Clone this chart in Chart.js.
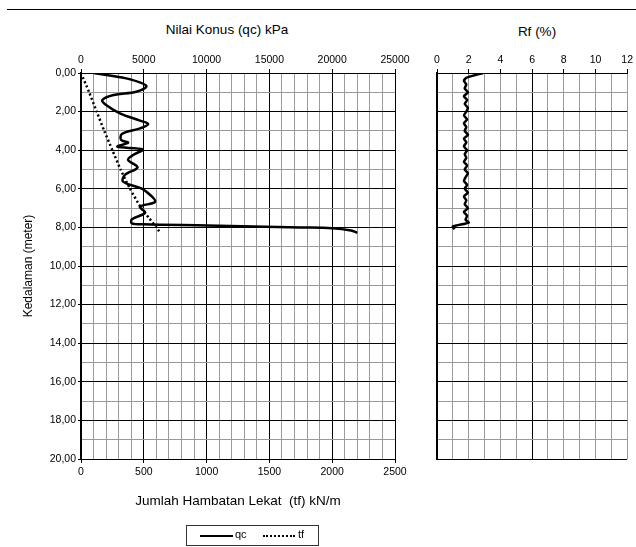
<!DOCTYPE html>
<html>
<head>
<meta charset="utf-8">
<script src="https://cdn.jsdelivr.net/npm/chart.js@4.4.1/dist/chart.umd.min.js"></script>
<style>
  body { margin: 0; background: #fff; font-family: "Liberation Sans", Arial, sans-serif; }
  #wrap { position: relative; width: 636px; height: 547px; overflow: hidden; }
  #qcCanvas { position: absolute; left: 0; top: 0; }
  #rfCanvas { position: absolute; left: 420px; top: 0; }
  .rule { position: absolute; left: 7px; top: 9px; width: 629px; border-top: 1px solid #000; }
  .title { position: absolute; font-size: 13.5px; color: #000; white-space: nowrap; transform: translate(-50%, -50%); }
  #legend { position: absolute; left: 186px; top: 525px; width: 131px; height: 19px; border: 1px solid #333; font-size: 11px; }
  #legend .ln { position: absolute; top: 9px; height: 0; }
  #legend .txt { position: absolute; top: 2px; }
</style>
</head>
<body>
<div id="wrap">
  <div class="rule"></div>
  <div class="title" style="left:227px; top:29px;">Nilai Konus (qc) kPa</div>
  <div class="title" style="left:537px; top:31px;">Rf (%)</div>
  <canvas id="qcCanvas" width="420" height="547"></canvas>
  <canvas id="rfCanvas" width="216" height="547"></canvas>
  <div id="legend">
    <span class="ln" style="left:13px; width:33px; border-top:2.5px solid #000;"></span>
    <span class="txt" style="left:48px;">qc</span>
    <span class="ln" style="left:76px; width:32px; border-top:2px dotted #000;"></span>
    <span class="txt" style="left:111px;">tf</span>
  </div>
</div>
<script>
// depth in metres, qc in kPa (top axis)
const qcDepth = [0, 0.28, 0.67, 0.97, 1.14, 1.4, 1.66, 2.09, 2.47, 2.64, 2.87, 3.16, 3.47, 3.61, 3.82, 3.96, 4.25, 4.5, 4.89, 5.28, 5.63, 5.98, 6.23, 6.67, 6.93, 7.24, 7.58, 7.79, 7.84, 7.9, 8.0, 8.04, 8.16, 8.28];
const qcValue = [1000, 3600, 5200, 4400, 2600, 1700, 2000, 3100, 4700, 5350, 4700, 3250, 3200, 3750, 2900, 4900, 4150, 3750, 4500, 3500, 3350, 4800, 5350, 5900, 4700, 5100, 4050, 4050, 4950, 10000, 17500, 20000, 21500, 22000];

// tf in kN/m (bottom axis)
const tfDepth = [0, 1, 2, 3, 4, 5, 6, 7, 7.5, 8, 8.2];
const tfValue = [0, 65, 125, 185, 250, 315, 390, 480, 540, 600, 622];

// Rf in %
const rfDepth = [0, 0.25, 0.4, 0.6, 0.8, 1.0, 1.2, 1.4, 1.6, 1.8, 2.0, 2.2, 2.4, 2.6, 2.8, 3.0, 3.2, 3.4, 3.6, 3.8, 4.0, 4.2, 4.4, 4.6, 4.8, 5.0, 5.2, 5.4, 5.6, 5.8, 6.0, 6.2, 6.4, 6.6, 6.8, 7.0, 7.2, 7.4, 7.6, 7.75, 7.95, 8.1];
const rfValue = [2.9, 1.85, 1.7, 1.85, 1.75, 1.95, 1.7, 1.9, 1.75, 1.95, 1.85, 1.7, 1.9, 1.7, 1.85, 1.75, 1.95, 1.7, 1.85, 1.7, 1.9, 1.75, 1.85, 1.7, 1.9, 1.75, 1.95, 1.8, 1.7, 1.9, 1.75, 1.95, 1.7, 1.85, 1.75, 1.95, 1.7, 1.9, 1.8, 2.0, 1.0, 1.1];

// axis ranges
const depthMax = 20;
const qcMax = 25000;
const tfMax = 2500;
const rfMax = 12;

const GREY = '#9a9a9a';
const NONE = 'rgba(0,0,0,0)';
const tickFont = { family: '"Liberation Sans", Arial, sans-serif', size: 10.5 };

function toPoints(depths, values) {
    return depths.map((d, i) => ({ x: values[i], y: d }));
}

function depthLabel(v) {
    return v % 2 === 0 ? v.toFixed(2).replace('.', ',') : '';
}

Chart.defaults.color = '#000';

new Chart(document.getElementById('qcCanvas'), {
    type: 'line',
    data: {
        datasets: [{
            label: 'qc',
            data: toPoints(qcDepth, qcValue),
            xAxisID: 'xTop',
            yAxisID: 'y',
            borderColor: '#000',
            borderWidth: 2.5,
            pointRadius: 0,
            tension: 0.35,
            fill: false
        }, {
            label: 'tf',
            data: toPoints(tfDepth, tfValue),
            xAxisID: 'xBottom',
            yAxisID: 'y',
            borderColor: '#000',
            borderWidth: 2.5,
            borderDash: [2, 2.5],
            pointRadius: 0,
            tension: 0.2,
            fill: false
        }]
    },
    options: {
        responsive: false,
        animation: false,
        devicePixelRatio: 1,
        layout: { padding: { left: 0, top: 0, right: 25, bottom: 0 } },
        plugins: { legend: { display: false }, tooltip: { enabled: false } },
        scales: {
            xTop: {
                type: 'linear', position: 'top', min: 0, max: qcMax,
                afterFit: s => { s.height = 73; },
                ticks: { stepSize: 1000, autoSkip: false, maxRotation: 0, padding: 3, font: tickFont,
                    callback: v => v % 5000 === 0 ? v : '' },
                grid: { color: c => c.tick && c.tick.value % 5000 === 0 ? '#000' : GREY, tickLength: 4,
                    tickColor: c => c.tick && c.tick.value % 5000 === 0 ? '#000' : NONE },
                border: { color: '#000' }
            },
            xBottom: {
                type: 'linear', position: 'bottom', min: 0, max: tfMax,
                afterFit: s => { s.height = 88; },
                ticks: { stepSize: 100, autoSkip: false, maxRotation: 0, padding: 3, font: tickFont,
                    callback: v => v % 500 === 0 ? v : '' },
                grid: { drawOnChartArea: false, tickLength: 4,
                    tickColor: c => c.tick && c.tick.value % 500 === 0 ? '#000' : NONE },
                border: { color: '#000' },
                title: { display: true, text: 'Jumlah Hambatan Lekat  (tf) kN/m', color: '#000',
                    font: { size: 13.5 }, padding: { top: 0, bottom: 38 } }
            },
            y: {
                type: 'linear', reverse: true, min: 0, max: depthMax,
                afterFit: s => { s.width = 81; },
                ticks: { stepSize: 1, autoSkip: false, padding: 2, font: tickFont, callback: depthLabel },
                grid: { color: c => c.tick && c.tick.value % 2 === 0 ? '#000' : GREY, tickLength: 3,
                    tickColor: c => c.tick && c.tick.value % 2 === 0 ? '#000' : NONE },
                border: { color: '#000', width: 2 },
                title: { display: true, text: 'Kedalaman (meter)', color: '#000',
                    font: { size: 12 }, padding: { top: 21, bottom: 0 } }
            }
        }
    }
});

new Chart(document.getElementById('rfCanvas'), {
    type: 'line',
    data: {
        datasets: [{
            label: 'Rf',
            data: toPoints(rfDepth, rfValue),
            xAxisID: 'x',
            yAxisID: 'y',
            borderColor: '#000',
            borderWidth: 2.5,
            pointRadius: 0,
            tension: 0.2,
            fill: false
        }]
    },
    options: {
        responsive: false,
        animation: false,
        devicePixelRatio: 1,
        layout: { padding: { left: 0, top: 0, right: 7, bottom: 88 } },
        plugins: { legend: { display: false }, tooltip: { enabled: false } },
        scales: {
            x: {
                type: 'linear', position: 'top', min: 0, max: rfMax,
                afterFit: s => { s.height = 73; },
                ticks: { stepSize: 1, autoSkip: false, maxRotation: 0, padding: 3, font: tickFont,
                    callback: v => v % 2 === 0 ? v : '' },
                grid: { color: c => c.tick && c.tick.value === 6 ? '#000' : GREY, tickLength: 4,
                    tickColor: c => c.tick && c.tick.value % 2 === 0 ? '#000' : NONE },
                border: { color: '#000' }
            },
            y: {
                type: 'linear', reverse: true, min: 0, max: depthMax,
                afterFit: s => { s.width = 17; },
                ticks: { stepSize: 1, autoSkip: false, display: false },
                grid: { color: c => c.tick && c.tick.value % 2 === 0 ? '#000' : GREY, drawTicks: false },
                border: { color: '#000', width: 2 }
            }
        }
    }
});
</script>
</body>
</html>
